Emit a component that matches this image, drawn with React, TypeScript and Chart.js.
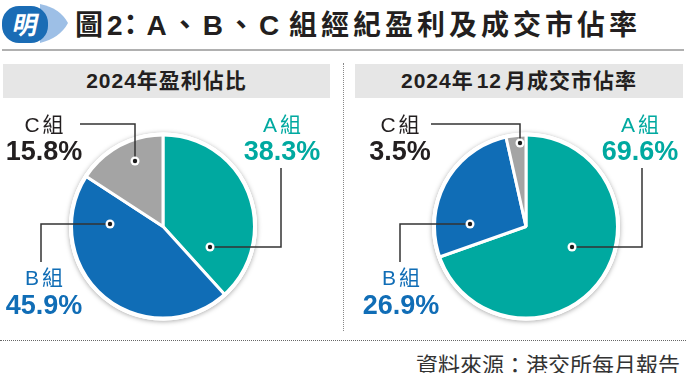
import React, { useEffect, useRef } from 'react';
import { Chart, registerables } from 'chart.js';

Chart.register(...registerables);

// ---------- data ----------
const categories = ['A組', 'B組', 'C組'];
const profitShare2024 = [38.3, 45.9, 15.8];
const marketShareDec2024 = [69.6, 26.9, 3.5];
const panelTitleLeft = '2024年盈利佔比';
const panelTitleRight = ['2024年', '12', '月成交市佔率'];
const titleParts = ['圖2', '：', 'A、B、C', ' ', '組經紀盈利及成交市佔率'];
const sourceText = '資料來源：港交所每月報告';

// ---------- style ----------
const SLICE_COLORS = ['#00A9A0', '#106DB6', '#A4A4A4'];
const TEXT_COLORS = ['#00A9A0', '#106DB6', '#231F20'];
const DARK = '#231F20';

type Callout = {
  pts: [number, number][]; // relative to pie centre; first point is the dot
  tx: number;
  nameBase: number;
  pctBase: number;
};

const leftCallouts: Callout[] = [
  { pts: [[47, 20.5], [118, 20.5], [118, -58.5]], tx: 119, nameBase: -94.5, pctBase: -66.5 },
  { pts: [[-53, -2.5], [-122, -2.5], [-122, 35.5]], tx: -119, nameBase: 58.5, pctBase: 87.5 },
  { pts: [[-28, -65.5], [-28, -102.5], [-83, -102.5]], tx: -119, nameBase: -94.5, pctBase: -66.5 },
];

const rightCallouts: Callout[] = [
  { pts: [[46, 20.5], [116, 20.5], [116, -58.5]], tx: 114, nameBase: -94.5, pctBase: -66.5 },
  { pts: [[-56, -2.5], [-126, -2.5], [-126, 35.5]], tx: -125, nameBase: 58.5, pctBase: 87 },
  { pts: [[-6, -83.5], [-6, -102.5], [-95, -102.5]], tx: -126, nameBase: -94.5, pctBase: -66.5 },
];

function makePlugin(callouts: Callout[]) {
  return {
    id: 'callouts',
    beforeDatasetsDraw(chart: any) {
      const arc = chart.getDatasetMeta(0).data[0];
      if (!arc) return;
      const { x, y, outerRadius } = arc.getProps(['x', 'y', 'outerRadius'], true);
      const ctx = chart.ctx;
      ctx.save();
      ctx.beginPath();
      ctx.arc(x, y, outerRadius + 1.5, 0, Math.PI * 2);
      ctx.fillStyle = '#ffffff';
      ctx.shadowColor = 'rgba(0,0,0,0.35)';
      ctx.shadowBlur = 5;
      ctx.shadowOffsetY = 1;
      ctx.fill();
      ctx.restore();
    },
    afterDatasetsDraw(chart: any) {
      const meta = chart.getDatasetMeta(0);
      const arc = meta.data[0];
      if (!arc) return;
      const { x, y, outerRadius } = arc.getProps(['x', 'y', 'outerRadius'], true);
      const ctx = chart.ctx;
      ctx.save();
      // white outer ring
      ctx.beginPath();
      ctx.arc(x, y, outerRadius - 0.5, 0, Math.PI * 2);
      ctx.lineWidth = 4;
      ctx.strokeStyle = '#ffffff';
      ctx.stroke();

      const values = chart.data.datasets[0].data as number[];
      const labels = chart.data.labels as string[];
      callouts.forEach((c, i) => {
        // leader line
        ctx.beginPath();
        c.pts.forEach(([px, py], k) => {
          if (k === 0) ctx.moveTo(x + px, y + py);
          else ctx.lineTo(x + px, y + py);
        });
        ctx.lineWidth = 1.5;
        ctx.strokeStyle = '#333333';
        ctx.stroke();
        // dot
        const [dx, dy] = c.pts[0];
        ctx.beginPath();
        ctx.arc(x + dx, y + dy, 4.5, 0, Math.PI * 2);
        ctx.fillStyle = '#ffffff';
        ctx.fill();
        ctx.beginPath();
        ctx.arc(x + dx, y + dy, 2.2, 0, Math.PI * 2);
        ctx.fillStyle = '#1a1a1a';
        ctx.fill();
        // texts
        ctx.textAlign = 'center';
        ctx.textBaseline = 'alphabetic';
        ctx.fillStyle = TEXT_COLORS[i];
        (ctx as any).letterSpacing = '3px';
        ctx.font = "21px 'Liberation Sans', 'Noto Sans CJK TC', sans-serif";
        ctx.fillText(labels[i], x + c.tx + 1.5, y + c.nameBase);
        (ctx as any).letterSpacing = '0px';
        ctx.font = "bold 27px 'Liberation Sans', sans-serif";
        ctx.fillText(values[i].toFixed(1) + '%', x + c.tx, y + c.pctBase);
      });
      ctx.restore();
    },
  };
}

function PieChart(props: { values: number[]; callouts: Callout[]; left: number; padding: any }) {
  const ref = useRef<HTMLCanvasElement>(null);
  useEffect(() => {
    const chart = new Chart(ref.current as HTMLCanvasElement, {
      type: 'pie',
      data: {
        labels: categories,
        datasets: [
          {
            data: props.values,
            backgroundColor: SLICE_COLORS,
            borderColor: '#ffffff',
            borderWidth: 3,
          },
        ],
      },
      options: {
        responsive: false,
        animation: false,
        events: [],
        layout: { padding: props.padding },
        plugins: { legend: { display: false }, tooltip: { enabled: false } },
      },
      plugins: [makePlugin(props.callouts)],
    } as any);
    return () => chart.destroy();
  }, []);
  return (
    <canvas
      ref={ref}
      width={343}
      height={240}
      style={{ position: 'absolute', left: props.left, top: 100, width: 343, height: 240 }}
    />
  );
}

const headerStyle: React.CSSProperties = {
  position: 'absolute',
  top: 64,
  height: 34,
  background: '#E6E6E6',
  color: DARK,
  font: "bold 21px 'Liberation Sans', 'Noto Sans CJK TC', sans-serif",
  letterSpacing: '1px',
  lineHeight: '34px',
  textAlign: 'center',
  whiteSpace: 'nowrap',
};

export default function App() {
  return (
    <div
      style={{
        position: 'absolute',
        left: 0,
        top: 0,
        width: 686,
        height: 373,
        background: '#ffffff',
        overflow: 'hidden',
      }}
    >
      {/* badge */}
      <svg width={72} height={48} style={{ position: 'absolute', left: 0, top: 0 }}>
        <path d="M40,4 Q60,8 68,23 Q60,38 40,43 Z" fill="#9DBFE6" />
        <rect x={2} y={6} width={46} height={37} rx={17} fill="#1A6CB5" />
        <text
          x={25}
          y={34}
          textAnchor="middle"
          fill="#ffffff"
          transform="skewX(-12) translate(6,0)"
          style={{ font: "bold 25px 'Noto Sans CJK TC', sans-serif" }}
        >
          明
        </text>
      </svg>
      {/* title */}
      <div
        style={{
          position: 'absolute',
          left: 75,
          top: 3,
          height: 40,
          lineHeight: '40px',
          whiteSpace: 'nowrap',
          color: DARK,
          font: "bold 28px 'Liberation Sans', 'Noto Sans CJK TC', sans-serif",
          letterSpacing: '4px',
        }}
      >
        {titleParts[0]}
        <span style={{ marginLeft: -10, marginRight: -2 }}>{titleParts[1]}</span>
        {titleParts[2]}
        <span style={{ letterSpacing: '-2px' }}>{titleParts[3]}</span>
        {titleParts[4]}
      </div>
      <div style={{ position: 'absolute', left: 2, top: 49, width: 682, height: 2, background: '#B0B0B0' }} />

      {/* panel headers */}
      <div style={{ ...headerStyle, left: 3, width: 327 }}>{panelTitleLeft}</div>
      <div style={{ ...headerStyle, left: 355, width: 328 }}>
        {panelTitleRight[0]}
        <span style={{ margin: '0 3px' }}>{panelTitleRight[1]}</span>
        {panelTitleRight[2]}
      </div>

      {/* separator */}
      <div style={{ position: 'absolute', left: 343, top: 63, height: 268, borderLeft: '1px dotted #888888' }} />

      <PieChart
        values={profitShare2024}
        callouts={leftCallouts}
        left={0}
        padding={{ left: 69, right: 86, top: 32.5, bottom: 19.5 }}
      />
      <PieChart
        values={marketShareDec2024}
        callouts={rightCallouts}
        left={343}
        padding={{ left: 89, right: 66, top: 32.5, bottom: 19.5 }}
      />

      {/* bottom rule and source */}
      <div style={{ position: 'absolute', left: 0, top: 340, width: 686, borderTop: '1px dotted #666666' }} />
      <div
        style={{
          position: 'absolute',
          right: 6,
          top: 347,
          lineHeight: '28px',
          whiteSpace: 'nowrap',
          color: '#333333',
          font: "22px 'Noto Sans CJK TC', sans-serif",
        }}
      >
        {sourceText}
      </div>
    </div>
  );
}
